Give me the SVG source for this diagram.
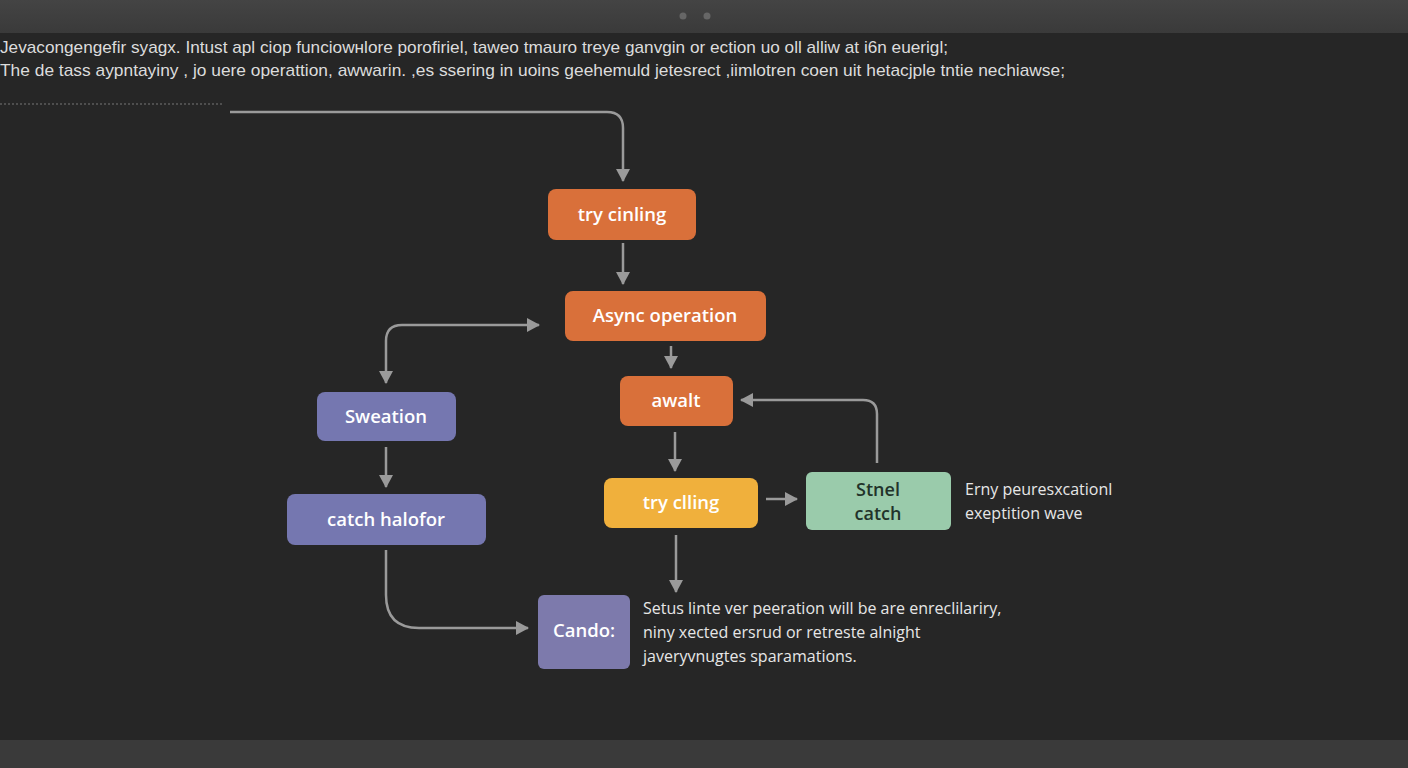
<svg xmlns="http://www.w3.org/2000/svg" width="1408" height="768" viewBox="0 0 1408 768">
<defs>
<linearGradient id="top" x1="0" y1="0" x2="0" y2="1"><stop offset="0" stop-color="#444"/><stop offset="1" stop-color="#3a3a3a"/></linearGradient>
<marker id="ah" viewBox="0 0 13 14" refX="12" refY="7" markerWidth="13" markerHeight="14" orient="auto-start-reverse" markerUnits="userSpaceOnUse"><path d="M0,0 L13,7 L0,14 z" fill="#9a9a9a"/></marker>
<style>
.hdr{font-family:"Liberation Sans",Arial,sans-serif;font-size:17px;fill:#dcdcdc}
.lbl{font-family:"Open Sans","Noto Sans",sans-serif;font-size:18.5px;font-weight:600;fill:#ffffff;text-anchor:middle}
.lbld{font-family:"Open Sans","Noto Sans",sans-serif;font-size:18px;font-weight:600;fill:#22332a;text-anchor:middle}
.note{font-family:"Open Sans","Noto Sans",sans-serif;font-size:16px;fill:#e6e6e6}
.c{fill:none;stroke:#9a9a9a;stroke-width:2.5;marker-end:url(#ah)}
.both{marker-start:url(#ah)}
.orange{fill:#d9703a}
.yellow{fill:#f0b03c}
.green{fill:#9acbab}
.purple{fill:#7577b0}
</style>
</defs>
<rect width="1408" height="768" fill="#262626"/>
<rect width="1408" height="33" fill="url(#top)"/>
<rect y="740" width="1408" height="28" fill="#3a3a3a"/>
<circle cx="683" cy="16" r="3.5" fill="#666"/>
<circle cx="707" cy="16" r="3.5" fill="#666"/>
<text class="hdr" x="0" y="53" textLength="948" lengthAdjust="spacingAndGlyphs">Jevacongengefir syagx.   Intust apl ciop funciowнlore porofiriel, taweo tmauro treye  ganvgin or ection uo oll alliw at i6n euerigl;</text>
<text class="hdr" x="0" y="76" textLength="1065" lengthAdjust="spacingAndGlyphs">The de tass aypntayiny ,  jo uere operattion, awwarin. ,es ssering  in uoins geehemuld jetesrect ,iimlotren coen uit hetacjple  tntie nechiawse;</text>
<line x1="0" y1="104" x2="222" y2="104" stroke="#777" stroke-width="1" stroke-dasharray="2,2"/>
<g id="connectors">
<path class="c" d="M230,112 H607 Q623,112 623,128 V181"/>
<path class="c" d="M623,243 V284"/>
<path class="c" d="M671,346 V368"/>
<path class="c" d="M675,432 V471"/>
<path class="c" d="M766,499 H797"/>
<path class="c" d="M877,463 V414 Q877,400 863,400 H741"/>
<path class="c both" d="M539,325 H402 Q386,325 386,341 V383"/>
<path class="c" d="M386,447 V487"/>
<path class="c" d="M386,550 V595 Q386,628 419,628 H528"/>
<path class="c" d="M676,535 V592"/>
</g>
<g id="n1"><rect class="orange" x="548" y="189" width="148" height="51" rx="8"/><text class="lbl" x="622" y="221">try cinling</text></g>
<g id="n2"><rect class="orange" x="565" y="291" width="201" height="50" rx="8"/><text class="lbl" x="665" y="322">Async operation</text></g>
<g id="n3"><rect class="orange" x="620" y="376" width="113" height="50" rx="8"/><text class="lbl" x="676" y="407">awalt</text></g>
<g id="n4"><rect class="yellow" x="604" y="478" width="154" height="50" rx="8"/><text class="lbl" x="681" y="509">try clling</text></g>
<g id="n5"><rect class="green" x="806" y="472" width="145" height="58" rx="6"/><text class="lbld" x="878" y="496">Stnel</text><text class="lbld" x="878" y="520">catch</text></g>
<g id="n6"><rect class="purple" x="317" y="392" width="139" height="49" rx="8"/><text class="lbl" x="386" y="423">Sweation</text></g>
<g id="n7"><rect class="purple" x="287" y="494" width="199" height="51" rx="8"/><text class="lbl" x="386" y="526">catch halofor</text></g>
<g id="n8"><rect fill="#7d7aac" x="538" y="595" width="92" height="74" rx="6"/><text class="lbl" x="584" y="637">Cando:</text></g>
<text class="note" x="965" y="495">Erny peuresxcationl</text>
<text class="note" x="965" y="519">exeptition wave</text>
<text class="note" x="643" y="614">Setus linte ver peeration will be are enreclilariry,</text>
<text class="note" x="643" y="638">niny xected ersrud or retreste alnight</text>
<text class="note" x="643" y="662">javeryvnugtes sparamations.</text>
</svg>
